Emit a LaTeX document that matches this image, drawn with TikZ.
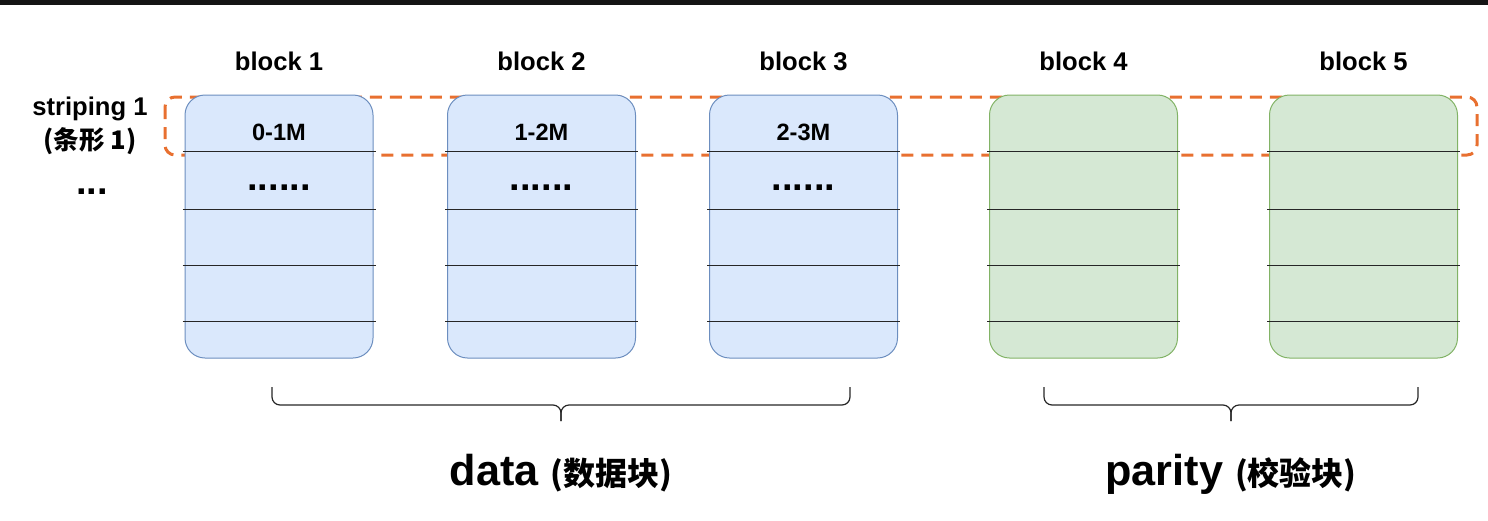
\documentclass[tikz,border=0pt]{standalone}
\usepackage{fontspec}
\setmainfont{Liberation Sans}
\newfontfamily\cjk{Noto Sans CJK SC}
\usetikzlibrary{positioning}
\definecolor{blkblue}{HTML}{DAE8FC}
\definecolor{edgeblue}{HTML}{6C8EBF}
\definecolor{blkgreen}{HTML}{D5E8D4}
\definecolor{edgegreen}{HTML}{82B366}
\definecolor{stripeorange}{RGB}{232,112,48}
\tikzset{
	blk/.style={rounded corners=10pt,minimum width=94pt,minimum height=131.5pt,line width=0.5pt,inner sep=0pt},
	datablk/.style={blk,draw=edgeblue,fill=blkblue},
	parblk/.style={blk,draw=edgegreen,fill=blkgreen},
	lbl/.style={font=\bfseries\fontsize{12.8}{17}\selectfont},
	celltxt/.style={font=\bfseries\fontsize{11.8}{14}\selectfont,inner sep=0pt},
	dotstxt/.style={font=\bfseries\fontsize{19}{20}\selectfont,inner sep=0pt},
	cellline/.style={line width=0.75pt,black!85},
	stripebox/.style={draw=stripeorange,line width=1.5pt,dash pattern=on 6pt off 4pt,rounded corners=5pt},
	brc/.style={rounded corners=4pt,line width=0.6pt,black!85},
	big/.style={font=\bfseries\fontsize{21.6}{24}\selectfont}
}
\begin{document}
\begin{tikzpicture}[x=0.5pt,y=-0.5pt]
	\useasboundingbox(0,0)rectangle(1488,520);
	\fill[black!92](0,0)rectangle(1488,5);
	% the stripe
	\draw[stripebox](165,97)rectangle(1477,155);
	% blocks
	\node[datablk](b1)at(279,226.5){};
	\node[datablk](b2)at(541.5,226.5){};
	\node[datablk](b3)at(803.5,226.5){};
	\node[parblk](b4)at(1083.5,226.5){};
	\node[parblk](b5)at(1363.5,226.5){};
	\foreach \i in {1,...,5}{
		\node[lbl,above=8.5pt of b\i]{block \i};
		\foreach \d in {28.5,57.5,85.5,113.5}
			\draw[cellline]([xshift=-1pt,yshift=-\d pt]b\i.north west)--([xshift=1pt,yshift=-\d pt]b\i.north east);
	}
	\foreach \i/\t in {1/0-1M,2/1-2M,3/2-3M}{
		\node[celltxt]at([yshift=-19pt]b\i.north){\t};
		\node[dotstxt]at([yshift=-46.5pt]b\i.north){......};
	}
	\node[lbl,align=center](str)at(90,126){striping 1\\{\cjk\bfseries(条形 1)}};
	\node[dotstxt](more)at(92,192){...};
	% braces
	\coordinate(dl)at(272,387);
	\coordinate(dr)at(850,387);
	\coordinate(dm)at(561,405);
	\coordinate(dtip)at(561,421);
	\coordinate(pl)at(1044,387);
	\coordinate(pr)at(1418,387);
	\coordinate(pm)at(1231,405);
	\coordinate(ptip)at(1231,421);
	\draw[brc](dl)|-(dm)--(dtip);
	\draw[brc](dr)|-(dm)--(dtip);
	\draw[brc](pl)|-(pm)--(ptip);
	\draw[brc](pr)|-(pm)--(ptip);
	\node[big,below=13pt of dtip](data){data {\cjk\fontsize{16}{18}\selectfont(数据块)}};
	\node[big,below=13pt of ptip](parity){parity {\cjk\fontsize{16}{18}\selectfont(校验块)}};
\end{tikzpicture}
\end{document}
